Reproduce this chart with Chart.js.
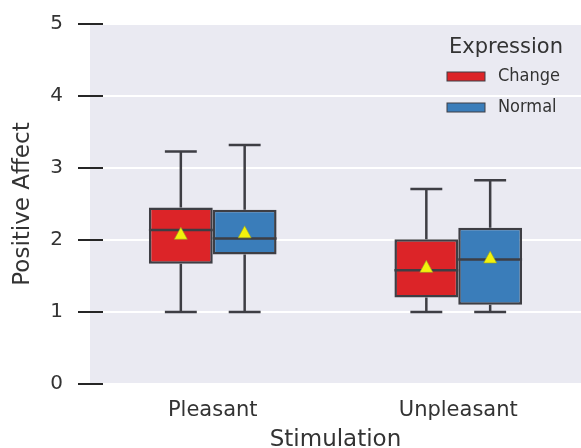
<!DOCTYPE html>
<html>
<head>
<meta charset="utf-8">
<script src="https://cdn.jsdelivr.net/npm/chart.js@4.4.1/dist/chart.umd.min.js"></script>
<style>
  html, body { margin: 0; padding: 0; background: #ffffff; }
  #wrap { width: 581px; height: 448px; position: relative; }
</style>
</head>
<body>
<div id="wrap"><canvas id="chart"></canvas></div>
<script>
// Box-plot summary of Positive Affect by stimulation and expression condition
const categories = ['Pleasant', 'Unpleasant'];
const seriesNames = ['Change', 'Normal'];
const yTicks = [0, 1, 2, 3, 4, 5];

// per series: [Pleasant, Unpleasant]
const changeQ1 = [1.67, 1.20];
const changeQ3 = [2.45, 2.01];
const changeMedian = [2.14, 1.58];
const changeMean = [2.08, 1.62];
const changeLow = [1.00, 1.00];
const changeHigh = [3.23, 2.71];

const normalQ1 = [1.80, 1.10];
const normalQ3 = [2.42, 2.17];
const normalMedian = [2.02, 1.73];
const normalMean = [2.10, 1.75];
const normalLow = [1.00, 1.00];
const normalHigh = [3.32, 2.83];

const RED = 'rgb(220,36,40)';
const BLUE = 'rgb(58,125,186)';
const LINE = '#3e3e44';
const TEXT = '#333333';

const stats = [
  { q1: changeQ1, q3: changeQ3, med: changeMedian, mean: changeMean, lo: changeLow, hi: changeHigh },
  { q1: normalQ1, q3: normalQ3, med: normalMedian, mean: normalMean, lo: normalLow, hi: normalHigh }
];

const boxData = (q1, q3) => q1.map((v, i) => [v, q3[i]]);

// gray plotting panel behind everything
const panelBg = {
  id: 'panelBg',
  beforeDraw(chart) {
    const { ctx, chartArea: a } = chart;
    ctx.save();
    ctx.fillStyle = '#eaeaf2';
    ctx.fillRect(a.left, a.top, a.right - a.left, a.bottom - a.top);
    ctx.restore();
  }
};

// whiskers, caps, medians, mean markers and y tick marks
const boxExtras = {
  id: 'boxExtras',
  afterDatasetsDraw(chart) {
    const { ctx } = chart;
    const y = chart.scales.y;
    ctx.save();
    ctx.strokeStyle = LINE;
    ctx.lineWidth = 2.5;
    ctx.lineCap = 'butt';
    stats.forEach((s, di) => {
      const meta = chart.getDatasetMeta(di);
      meta.data.forEach((bar, j) => {
        const x = bar.x, w = bar.width;
        const yq1 = y.getPixelForValue(s.q1[j]);
        const yq3 = y.getPixelForValue(s.q3[j]);
        const ylo = y.getPixelForValue(s.lo[j]);
        const yhi = y.getPixelForValue(s.hi[j]);
        const ymed = y.getPixelForValue(s.med[j]);
        ctx.beginPath();
        ctx.moveTo(x, yq3); ctx.lineTo(x, yhi);
        ctx.moveTo(x, yq1); ctx.lineTo(x, ylo);
        ctx.moveTo(x - w / 4, yhi); ctx.lineTo(x + w / 4, yhi);
        ctx.moveTo(x - w / 4, ylo); ctx.lineTo(x + w / 4, ylo);
        ctx.moveTo(x - w / 2, ymed); ctx.lineTo(x + w / 2, ymed);
        ctx.stroke();
        // mean marker
        const ym = y.getPixelForValue(s.mean[j]);
        ctx.beginPath();
        ctx.moveTo(x, ym - 7);
        ctx.lineTo(x + 6.5, ym + 5);
        ctx.lineTo(x - 6.5, ym + 5);
        ctx.closePath();
        ctx.fillStyle = '#f2f20c';
        ctx.fill();
        ctx.lineWidth = 1;
        ctx.strokeStyle = 'rgba(150,160,40,0.6)';
        ctx.stroke();
        ctx.strokeStyle = LINE;
        ctx.lineWidth = 2.5;
      });
    });
    // y tick marks crossing the panel edge
    const left = chart.chartArea.left;
    ctx.strokeStyle = '#262626';
    ctx.lineWidth = 2;
    yTicks.forEach(t => {
      const py = Math.round(y.getPixelForValue(t));
      ctx.beginPath();
      ctx.moveTo(left - 12, py);
      ctx.lineTo(left + 13, py);
      ctx.stroke();
    });
    ctx.restore();
  }
};

// legend placed inside the panel, top right
const insideLegend = {
  id: 'insideLegend',
  afterDraw(chart) {
    const { ctx } = chart;
    ctx.save();
    ctx.fillStyle = TEXT;
    ctx.font = '21px "DejaVu Sans"';
    ctx.textAlign = 'center';
    ctx.textBaseline = 'middle';
    ctx.fillText('Expression', 506, 48);
    const colors = [RED, BLUE];
    const rows = [76.5, 107.5];
    seriesNames.forEach((name, i) => {
      ctx.fillStyle = colors[i];
      ctx.fillRect(447, rows[i] - 4.5, 38, 9);
      ctx.strokeStyle = LINE;
      ctx.lineWidth = 1;
      ctx.strokeRect(447, rows[i] - 4.5, 38, 9);
      ctx.fillStyle = TEXT;
      ctx.font = '18px "DejaVu Sans Condensed", "Liberation Sans Narrow", "DejaVu Sans"';
      ctx.textAlign = 'left';
      ctx.fillText(name, 498, rows[i]);
    });
    ctx.restore();
  }
};

new Chart(document.getElementById('chart'), {
  type: 'bar',
  data: {
    labels: categories,
    datasets: [
      { label: seriesNames[0], data: boxData(changeQ1, changeQ3), backgroundColor: RED,
        borderColor: LINE, borderWidth: 2.5, borderSkipped: false },
      { label: seriesNames[1], data: boxData(normalQ1, normalQ3), backgroundColor: BLUE,
        borderColor: LINE, borderWidth: 2.5, borderSkipped: false }
    ]
  },
  options: {
    responsive: true,
    maintainAspectRatio: false,
    animation: false,
    layout: { padding: { top: 24, right: 0, left: 0, bottom: 0 } },
    plugins: { legend: { display: false }, tooltip: { enabled: false } },
    datasets: { bar: { categoryPercentage: 0.52, barPercentage: 1.0 } },
    scales: {
      x: {
        grid: { display: false, drawTicks: false },
        border: { display: false },
        ticks: { color: TEXT, font: { family: 'DejaVu Sans', size: 21 }, padding: 14 },
        title: { display: true, text: 'Stimulation', color: TEXT,
                 font: { family: 'DejaVu Sans', size: 23, lineHeight: 0.7 }, padding: { top: 0, bottom: 0 } },
        afterFit(scale) { scale.height = 64; scale.paddingLeft = 0; scale.paddingRight = 0; }
      },
      y: {
        min: 0, max: 5,
        afterBuildTicks(scale) { scale.ticks = yTicks.map(v => ({ value: v })); },
        grid: { color: '#ffffff', lineWidth: 2, drawTicks: false },
        border: { display: false },
        ticks: { color: TEXT, font: { family: 'DejaVu Sans', size: 20 }, padding: 27 },
        title: { display: true, text: 'Positive Affect', color: TEXT,
                 font: { family: 'DejaVu Sans', size: 23, lineHeight: 1.2 }, padding: { top: 9, bottom: 0 } },
        afterFit(scale) { scale.width = 90; scale.paddingTop = 0; scale.paddingBottom = 0; }
      }
    }
  },
  plugins: [panelBg, boxExtras, insideLegend]
});
</script>
</body>
</html>
